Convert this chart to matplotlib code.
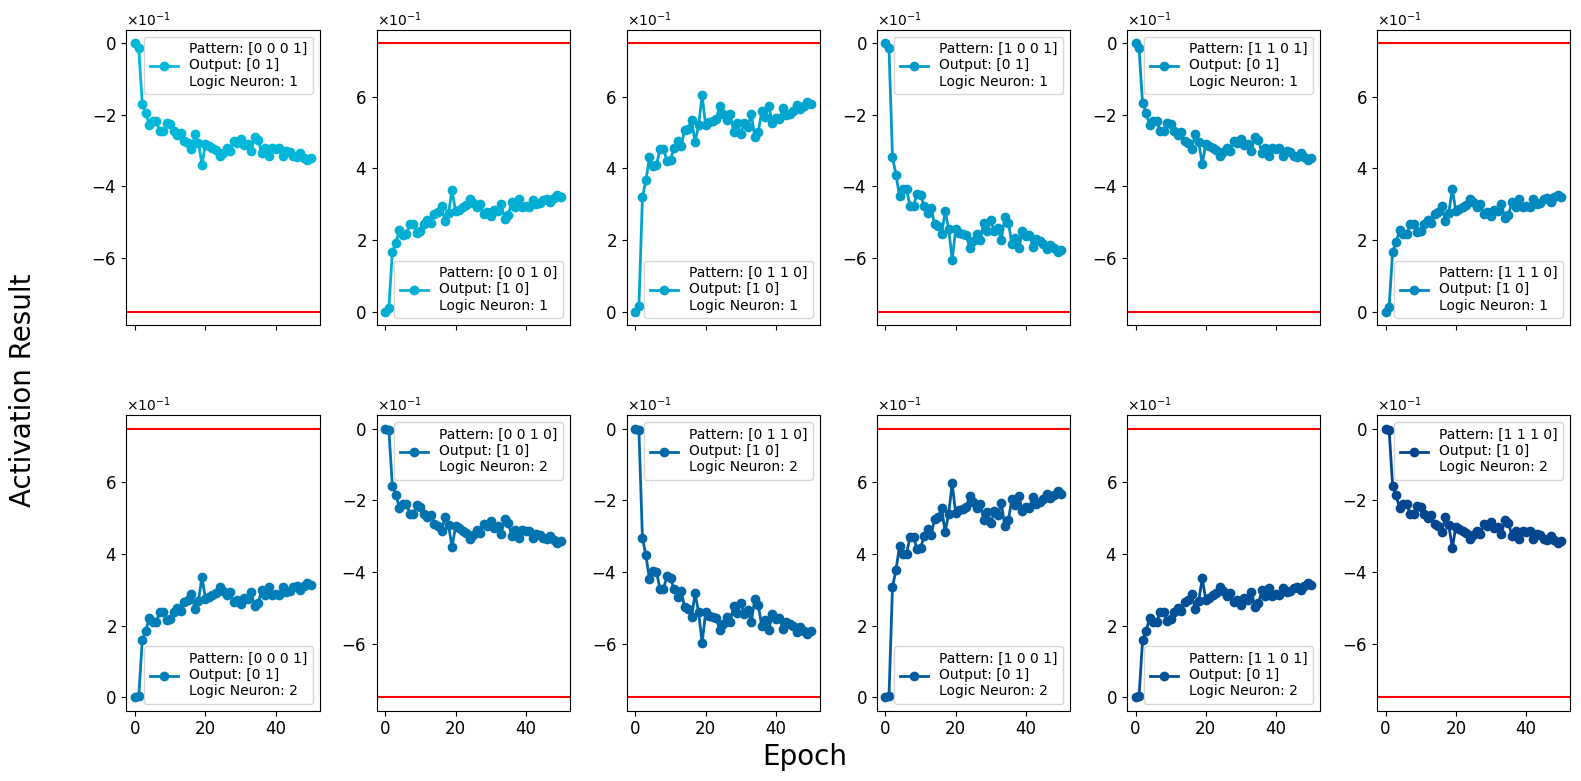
import numpy as np
import matplotlib
matplotlib.use('Agg')
import matplotlib.pyplot as plt
from matplotlib.colors import LinearSegmentedColormap
from matplotlib.ticker import MaxNLocator

plt.rcParams['font.family'] = 'DejaVu Sans'

# panel metadata (row 1 = logic neuron 1, row 2 = logic neuron 2)
patterns = ['[0 0 0 1]', '[0 0 1 0]', '[0 1 1 0]', '[1 0 0 1]', '[1 1 0 1]', '[1 1 1 0]'] * 2
outputs = ['[0 1]', '[1 0]', '[1 0]', '[0 1]', '[0 1]', '[1 0]'] * 2
neurons = [1] * 6 + [2] * 6
thresholds = [-0.75, 0.75, 0.75, -0.75, -0.75, 0.75,
              0.75, -0.75, -0.75, 0.75, 0.75, -0.75]

epochs = list(range(51))

# activation results
act_n1_p0001 = [0, -0.015, -0.170, -0.195, -0.230, -0.218, -0.218, -0.246, -0.246, -0.223, -0.227, -0.246, -0.257, -0.250, -0.274, -0.280, -0.296, -0.255, -0.278, -0.340, -0.282, -0.287, -0.294, -0.299, -0.316, -0.306, -0.293, -0.301, -0.274, -0.280, -0.268, -0.285, -0.282, -0.302, -0.262, -0.271, -0.308, -0.293, -0.315, -0.293, -0.296, -0.294, -0.315, -0.302, -0.305, -0.315, -0.318, -0.308, -0.320, -0.327, -0.322]
act_n1_p0010 = [0, 0.010, 0.166, 0.193, 0.228, 0.215, 0.216, 0.244, 0.244, 0.221, 0.225, 0.244, 0.255, 0.248, 0.272, 0.278, 0.294, 0.252, 0.276, 0.340, 0.280, 0.285, 0.292, 0.297, 0.315, 0.304, 0.291, 0.300, 0.272, 0.278, 0.266, 0.283, 0.280, 0.300, 0.260, 0.269, 0.306, 0.291, 0.314, 0.291, 0.294, 0.292, 0.313, 0.300, 0.303, 0.313, 0.316, 0.306, 0.318, 0.326, 0.320]
act_n1_p0110 = [0, 0.015, 0.319, 0.367, 0.431, 0.407, 0.409, 0.455, 0.455, 0.421, 0.425, 0.457, 0.477, 0.462, 0.507, 0.511, 0.535, 0.473, 0.520, 0.604, 0.521, 0.530, 0.533, 0.537, 0.574, 0.553, 0.535, 0.551, 0.502, 0.526, 0.496, 0.527, 0.516, 0.551, 0.487, 0.502, 0.561, 0.544, 0.574, 0.527, 0.540, 0.537, 0.570, 0.549, 0.553, 0.561, 0.577, 0.565, 0.574, 0.585, 0.579]
act_n1_p1001 = [0, -0.015, -0.318, -0.367, -0.428, -0.406, -0.408, -0.455, -0.455, -0.420, -0.423, -0.456, -0.475, -0.461, -0.505, -0.510, -0.534, -0.470, -0.518, -0.605, -0.520, -0.529, -0.532, -0.536, -0.572, -0.552, -0.534, -0.550, -0.501, -0.525, -0.495, -0.526, -0.515, -0.550, -0.486, -0.501, -0.560, -0.543, -0.573, -0.526, -0.539, -0.536, -0.569, -0.548, -0.552, -0.560, -0.576, -0.564, -0.573, -0.584, -0.578]
act_n1_p1101 = [0, -0.015, -0.168, -0.194, -0.229, -0.217, -0.217, -0.245, -0.245, -0.222, -0.226, -0.245, -0.256, -0.249, -0.273, -0.279, -0.295, -0.254, -0.277, -0.338, -0.281, -0.286, -0.293, -0.298, -0.315, -0.305, -0.292, -0.300, -0.273, -0.279, -0.267, -0.284, -0.281, -0.301, -0.261, -0.270, -0.307, -0.292, -0.314, -0.292, -0.295, -0.293, -0.314, -0.301, -0.304, -0.314, -0.317, -0.307, -0.319, -0.326, -0.321]
act_n1_p1110 = [0, 0.012, 0.168, 0.194, 0.229, 0.217, 0.217, 0.245, 0.245, 0.222, 0.226, 0.245, 0.256, 0.249, 0.273, 0.279, 0.295, 0.254, 0.277, 0.342, 0.281, 0.286, 0.293, 0.298, 0.315, 0.305, 0.292, 0.300, 0.273, 0.279, 0.267, 0.284, 0.281, 0.301, 0.261, 0.270, 0.307, 0.292, 0.314, 0.292, 0.295, 0.293, 0.314, 0.301, 0.304, 0.314, 0.317, 0.307, 0.319, 0.326, 0.321]
act_n2_p0001 = [0, 0.003, 0.161, 0.186, 0.222, 0.210, 0.211, 0.238, 0.239, 0.215, 0.219, 0.238, 0.249, 0.242, 0.266, 0.272, 0.288, 0.247, 0.270, 0.335, 0.274, 0.279, 0.286, 0.291, 0.308, 0.298, 0.285, 0.293, 0.266, 0.272, 0.260, 0.277, 0.274, 0.294, 0.254, 0.263, 0.300, 0.285, 0.307, 0.285, 0.288, 0.286, 0.307, 0.294, 0.297, 0.307, 0.310, 0.300, 0.312, 0.319, 0.314]
act_n2_p0010 = [0, -0.003, -0.159, -0.185, -0.221, -0.209, -0.210, -0.237, -0.238, -0.214, -0.218, -0.237, -0.248, -0.241, -0.265, -0.271, -0.287, -0.246, -0.269, -0.331, -0.273, -0.278, -0.285, -0.290, -0.307, -0.297, -0.284, -0.292, -0.265, -0.271, -0.259, -0.276, -0.273, -0.293, -0.253, -0.262, -0.299, -0.284, -0.306, -0.284, -0.287, -0.285, -0.306, -0.293, -0.296, -0.306, -0.309, -0.299, -0.311, -0.318, -0.313]
act_n2_p0110 = [0, -0.003, -0.305, -0.354, -0.421, -0.398, -0.400, -0.447, -0.447, -0.412, -0.416, -0.449, -0.469, -0.452, -0.498, -0.503, -0.527, -0.460, -0.512, -0.598, -0.513, -0.522, -0.525, -0.529, -0.562, -0.545, -0.527, -0.540, -0.494, -0.515, -0.487, -0.518, -0.507, -0.541, -0.476, -0.493, -0.552, -0.535, -0.562, -0.518, -0.531, -0.528, -0.559, -0.540, -0.544, -0.552, -0.567, -0.555, -0.565, -0.574, -0.566]
act_n2_p1001 = [0, 0.003, 0.308, 0.356, 0.422, 0.399, 0.401, 0.448, 0.448, 0.413, 0.417, 0.450, 0.470, 0.453, 0.499, 0.504, 0.528, 0.461, 0.513, 0.597, 0.514, 0.523, 0.526, 0.530, 0.563, 0.546, 0.528, 0.541, 0.495, 0.516, 0.488, 0.519, 0.508, 0.542, 0.477, 0.494, 0.553, 0.536, 0.563, 0.519, 0.532, 0.529, 0.560, 0.541, 0.545, 0.553, 0.568, 0.556, 0.566, 0.575, 0.567]
act_n2_p1101 = [0, 0.003, 0.159, 0.185, 0.221, 0.209, 0.210, 0.237, 0.238, 0.214, 0.218, 0.237, 0.248, 0.241, 0.265, 0.271, 0.287, 0.246, 0.269, 0.332, 0.273, 0.278, 0.285, 0.290, 0.307, 0.297, 0.284, 0.292, 0.265, 0.271, 0.259, 0.276, 0.273, 0.293, 0.253, 0.262, 0.299, 0.284, 0.306, 0.284, 0.287, 0.285, 0.306, 0.293, 0.296, 0.306, 0.309, 0.299, 0.311, 0.318, 0.313]
act_n2_p1110 = [0, -0.003, -0.160, -0.186, -0.222, -0.210, -0.211, -0.238, -0.239, -0.215, -0.219, -0.238, -0.249, -0.242, -0.266, -0.272, -0.288, -0.247, -0.270, -0.333, -0.274, -0.279, -0.286, -0.291, -0.308, -0.298, -0.285, -0.293, -0.266, -0.272, -0.260, -0.277, -0.274, -0.294, -0.254, -0.263, -0.300, -0.285, -0.307, -0.285, -0.288, -0.286, -0.307, -0.294, -0.297, -0.307, -0.310, -0.300, -0.312, -0.319, -0.314]

results = [act_n1_p0001, act_n1_p0010, act_n1_p0110, act_n1_p1001, act_n1_p1101, act_n1_p1110,
           act_n2_p0001, act_n2_p0010, act_n2_p0110, act_n2_p1001, act_n2_p1101, act_n2_p1110]

# cyan -> dark blue over the 12 panels
cmap = LinearSegmentedColormap.from_list('blues', ['#00b7da', '#0084bb', '#03458f'])
colors = [cmap(i / 11) for i in range(12)]

fig, axes = plt.subplots(2, 6, figsize=(15.81, 7.81), sharex=True)

for i, ax in enumerate(axes.flat):
    label = f'Pattern: {patterns[i]}\nOutput: {outputs[i]}\nLogic Neuron: {neurons[i]}'
    ax.plot(epochs, results[i], 'o-', color=colors[i], linewidth=2, markersize=6, label=label)
    ax.axhline(thresholds[i], color='red', linewidth=1.5)
    ax.yaxis.set_major_locator(MaxNLocator(nbins=5))
    ax.ticklabel_format(axis='y', style='sci', scilimits=(0, 0), useMathText=True)
    ax.tick_params(labelsize=12)
    ax.legend(loc='upper right' if thresholds[i] < 0 else 'lower right', fontsize=10)

fig.supxlabel('Epoch', fontsize=20, x=0.509, y=0.013)
fig.supylabel('Activation Result', fontsize=20, x=0.006)
plt.subplots_adjust(left=0.08, right=0.993, top=0.962, bottom=0.09, wspace=0.295, hspace=0.305)
plt.savefig('out.png', dpi=100)
